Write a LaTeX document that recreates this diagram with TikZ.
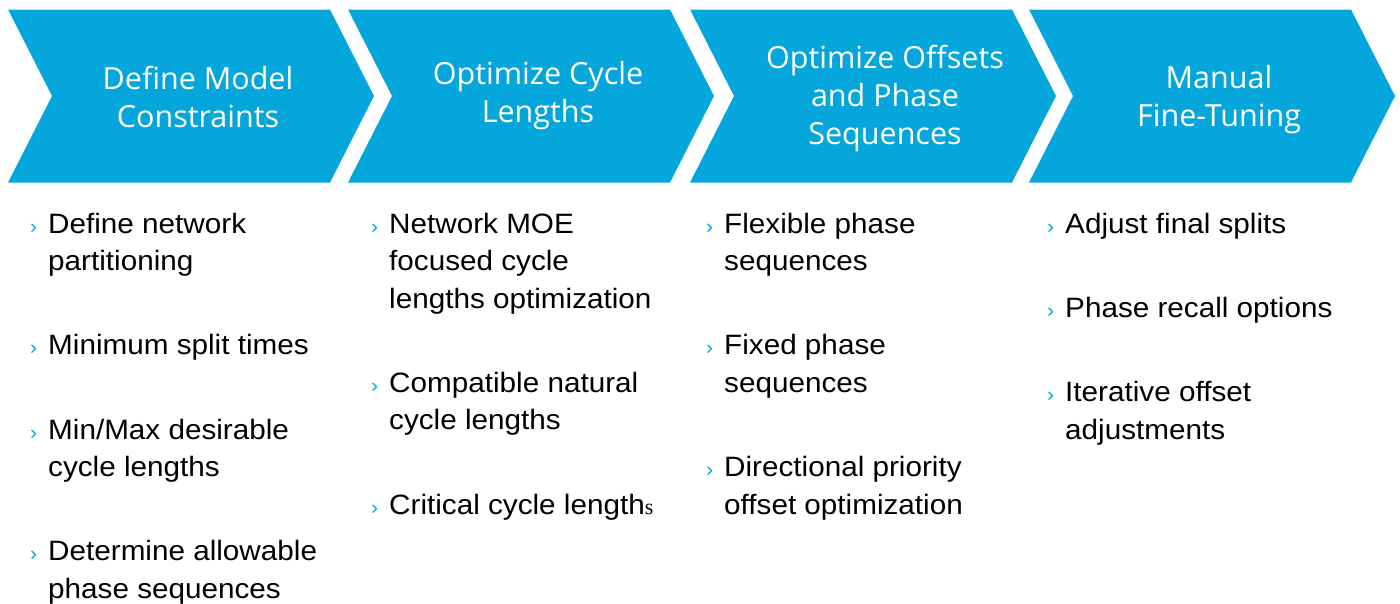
\documentclass[tikz,border=0pt]{standalone}
\usepackage{fontspec}
\setmainfont[FakeStretch=1.06]{Liberation Sans}
\newfontfamily\titlefont{Open Sans}
\newfontfamily\oddfont{Liberation Serif}
\usetikzlibrary{positioning}
\definecolor{stepblue}{HTML}{04A6DC}
\newcommand{\bul}{\llap{\rule{0pt}{24pt}\textcolor{stepblue}{\fontsize{20}{20}\selectfont ›}\hspace{11pt}}}

\begin{document}
\begin{tikzpicture}[x=1pt, y=-1pt,
	chevron/.style={fill=stepblue},
	title/.style={text=white, font=\titlefont\fontsize{30.5}{38}\selectfont, align=center, inner sep=0pt},
	item/.style={font=\fontsize{28}{37.5}\selectfont, align=left, anchor=north west, inner sep=0pt},
	node distance=54pt]
	\useasboundingbox (0,0) rectangle (1400,603);

	% the four steps
	\foreach \x/\dx/\dy/\name/\txt in {8/190/1/s1/{Define Model\\Constraints}, 348/190/0/s2/{Optimize Cycle\\Lengths}, 690/195/2/s3/{Optimize Offsets\\and Phase\\Sequences}, 1029/190/4/s4/{Manual\\Fine-Tuning}} {
		\fill[chevron] (\x,9.5) -- ++(322,0) -- ++(44,86.5) -- ++(-44,86.5) -- ++(-322,0) -- ++(44,-86.5) -- cycle;
		\node[title] (\name) at (\x+\dx,96+\dy) {\txt};
	}

	% column 1
	\node[item] (a1) at (48,209) {\bul Define network\\partitioning};
	\node[below=of a1.south west, item] (a2) {\bul Minimum split times};
	\node[below=of a2.south west, item] (a3) {\bul Min/Max desirable\\cycle lengths};
	\node[below=of a3.south west, item] (a4) {\bul Determine allowable\\phase sequences};

	% column 2
	\node[item] (b1) at (389,209) {\bul Network MOE\\focused cycle\\lengths optimization};
	\node[below=of b1.south west, item] (b2) {\bul Compatible natural\\cycle lengths};
	\node[below=of b2.south west, item] (b3) {\bul Critical cycle length{\oddfont\fontsize{22}{22}\selectfont s}};

	% column 3
	\node[item] (c1) at (724,209) {\bul Flexible phase\\sequences};
	\node[below=of c1.south west, item] (c2) {\bul Fixed phase\\sequences};
	\node[below=of c2.south west, item] (c3) {\bul Directional priority\\offset optimization};

	% column 4
	\node[item] (d1) at (1065,209) {\bul Adjust final splits};
	\node[below=of d1.south west, item] (d2) {\bul Phase recall options};
	\node[below=of d2.south west, item] (d3) {\bul Iterative offset\\adjustments};
\end{tikzpicture}
\end{document}
